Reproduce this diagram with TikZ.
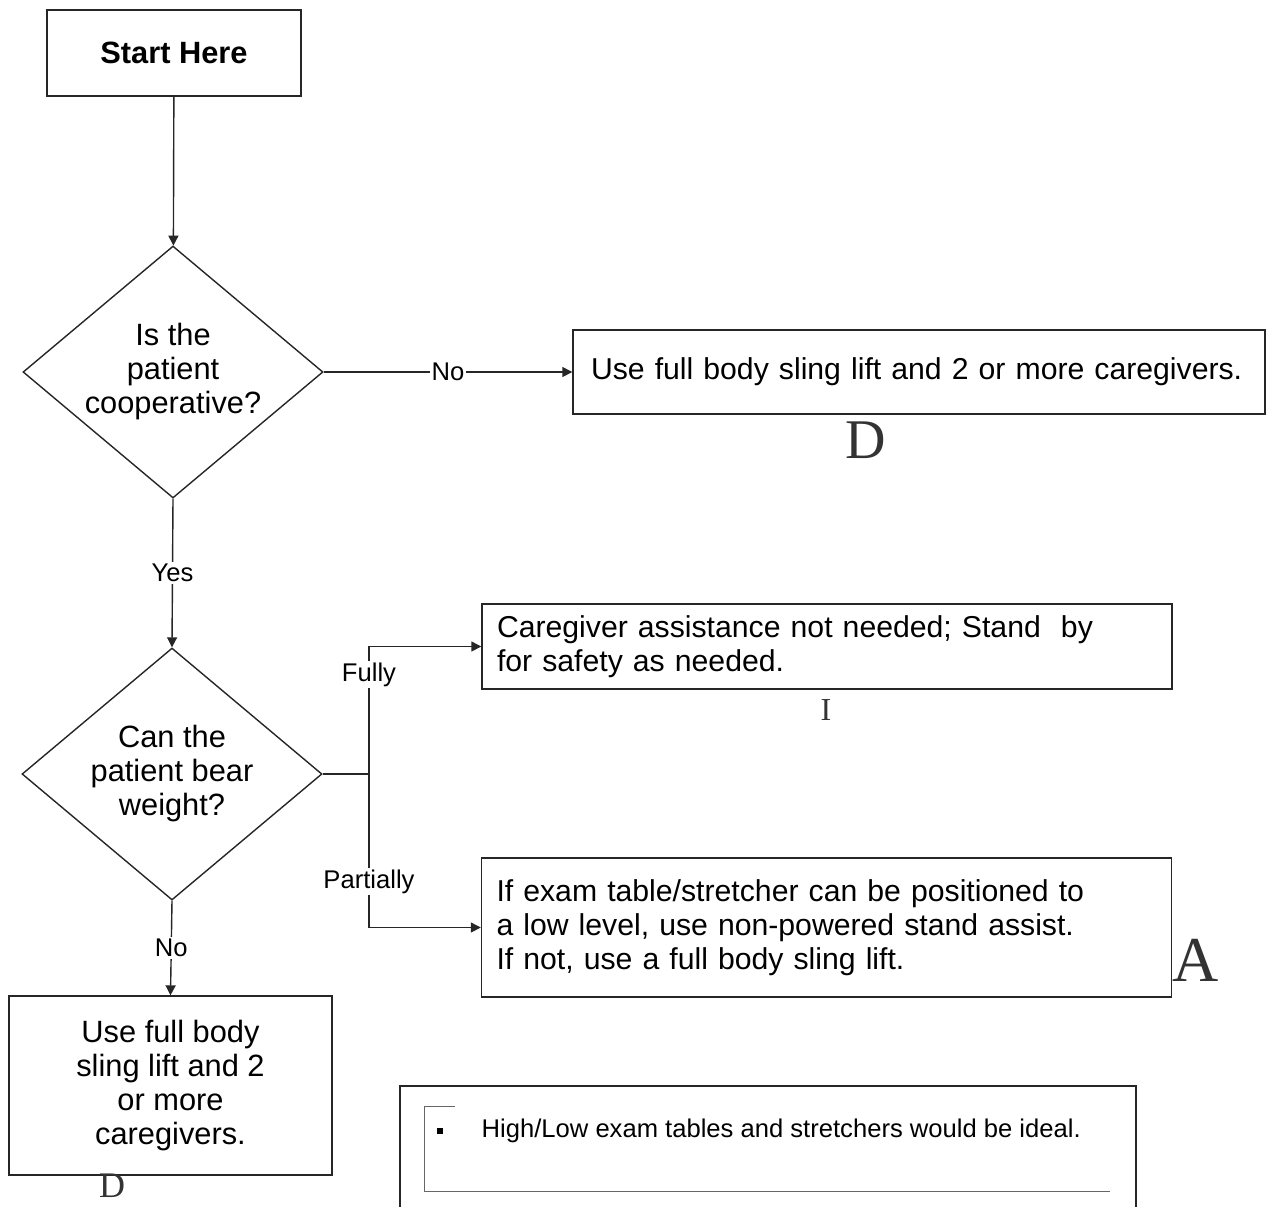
\documentclass[tikz,border=0pt]{standalone}
\usepackage{fontspec}
\setmainfont{Liberation Sans}
\newfontfamily\handfont{Liberation Serif}
\usetikzlibrary{shapes.geometric,arrows.meta,calc}
\newcommand{\boxfont}{\fontsize{15.4}{17}\selectfont}
\newcommand{\widefont}{\fontsize{15.1}{17}\selectfont}
\newcommand{\lblfont}{\fontsize{12.8}{14}\selectfont}

\begin{document}
\begin{tikzpicture}[x=0.5pt, y=-0.5pt, >={Triangle[length=5pt,width=5pt]},
		line width=0.7pt, draw=black!85,
		box/.style={draw, rectangle, inner sep=0pt, font=\boxfont},
		widebox/.style={box, align=left, font=\widefont},
		decision/.style={draw, diamond, inner sep=0pt, minimum width=150pt, minimum height=126pt},
		dtext/.style={align=center, font=\boxfont},
		lbl/.style={fill=white, inner sep=1pt, font=\lblfont},
		hand/.style={inner sep=0pt, text=black!80}]
		% page: 1267 x 1206 px
		\useasboundingbox (0,0) rectangle (1267,1206);
		\clip (0,0) rectangle (1267,1206);
		%%% left column
		\node[box, minimum width=127pt, minimum height=43pt, font=\boxfont\bfseries] (start) at (174,53) {Start Here};
		\node[decision, label={[dtext]center:{Is the\\patient\\cooperative?}}] (coop) at (173,372) {};
		\node[decision, label={[dtext]center:{Can the\\patient bear\\weight?}}] (bear) at (172,774) {};
		\node[box, minimum width=161.5pt, minimum height=89.5pt, align=center] (noweight) at (170.5,1085.5) {Use full body\\sling lift and 2\\or more\\caregivers.};
		%%% right column
		\node[widebox, text width=336pt, inner xsep=5pt, minimum height=42pt] (nocoop) at (919,372) {\hspace{4pt}Use full body sling lift and 2 or more caregivers.};
		\node[widebox, text width=330pt, inner xsep=7.5pt, minimum height=42.5pt] (fully) at (827,646.5) {Caregiver assistance not needed; Stand~ by\\for safety as needed.};
		\node[widebox, text width=330pt, inner xsep=7.5pt, minimum height=69.5pt] (partly) at (826.5,927.5) {If exam table/stretcher can be positioned to\\a low level, use non-powered stand assist.\\If not, use a full body sling lift.};
		\coordinate (split) at (369,774);
		%%% connectors
		\draw[->] (start) -- (coop);
		\draw[->] (coop.east) -- node[lbl] {No} (nocoop.west);
		\draw[->] (coop.south) -- node[lbl] {Yes} (bear.north);
		\draw (bear.east) -- (split);
		\draw[->] (split) |- node[lbl, pos=0.39] {Fully} (fully.west);
		\draw[->] (split) |- node[lbl, pos=0.35] {Partially} (partly.west);
		\draw[->] (bear.south) -- node[lbl] {No} (noweight.north);
		%%% note at the foot
		\draw (400,1215) |- (1136,1086) -- (1136,1215);
		\draw[line width=0.4pt, black!60] (455,1106) -- (424,1106) -- (424,1191) -- (1110,1191);
		\node[fill=black, minimum size=3pt, inner sep=0pt] (bullet) at (440,1131) {};
		\node[anchor=west, inner sep=0pt, font=\lblfont] (note) at (481,1131) {High/Low exam tables and stretchers would be ideal.};
		%%% handwritten marks
		\foreach \i/\pos/\txt/\sz in {1/{(866,440)}/D/28, 2/{(826,710)}/I/16, 3/{(1196,960)}/A/32, 4/{(112,1186)}/D/18}
			\node[hand, font=\fontsize{\sz}{\sz}\selectfont\handfont] (mark\i) at \pos {\txt};
	\end{tikzpicture}
\end{document}
